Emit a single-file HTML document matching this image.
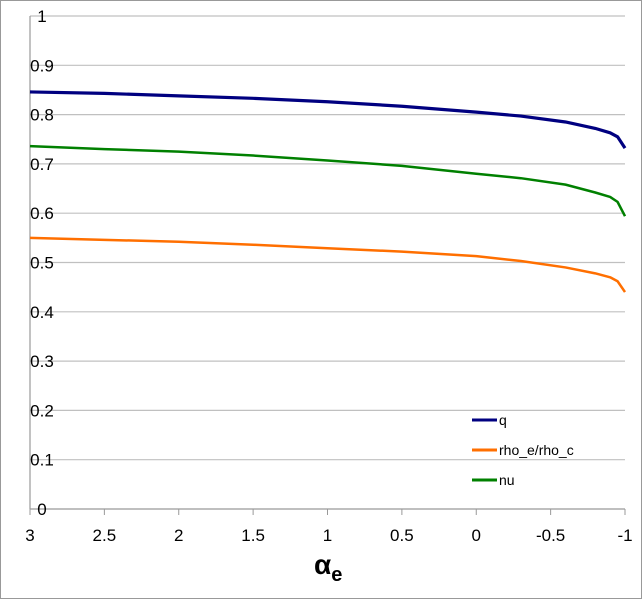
<!DOCTYPE html>
<html><head><meta charset="utf-8"><style>
body{margin:0;background:#fff}
svg{display:block;font-family:"Liberation Sans",sans-serif}
</style></head><body>
<svg width="642" height="599">
<rect x="0.5" y="0.5" width="641" height="598" fill="#fff" stroke="#999"/>
<g id="grid"></g><g id="ticks"></g><g id="series"></g>
<text x="314" y="574" font-size="28" font-weight="bold">α<tspan font-size="20" dy="7">e</tspan></text>
<g id="legend"></g>
</svg>
<script>
const alphas=[3,2.5,2,1.5,1,0.5,0,-0.3,-0.6,-0.8,-0.9,-0.95,-1];
const qVals=[.846,.843,.838,.833,.826,.817,.805,.797,.785,.772,.763,.755,.732];
const rhoVals=[.550,.546,.542,.536,.529,.522,.513,.503,.490,.478,.470,.462,.440];
const nuVals=[.736,.730,.725,.717,.707,.696,.680,.671,.658,.642,.633,.623,.594];
const xTicks=[3,2.5,2,1.5,1,0.5,0,-0.5,-1];
const yTicks=[0,0.1,0.2,0.3,0.4,0.5,0.6,0.7,0.8,0.9,1];
const seriesNames=["q","rho_e/rho_c","nu"];
const X0=30,X1=625,Y0=509,Y1=16;
const xs=a=>X0+(3-a)/4*(X1-X0);
const ys=v=>Y0-v*(Y0-Y1);
const NS="http://www.w3.org/2000/svg";
function mk(t,at,p){const e=document.createElementNS(NS,t);for(const k in at)e.setAttribute(k,at[k]);p.appendChild(e);return e;}
const grid=document.getElementById('grid'),ticks=document.getElementById('ticks'),ser=document.getElementById('series'),leg=document.getElementById('legend');
yTicks.forEach(v=>{
 if(v>0){const l=mk('line',{x1:X0,x2:X1,y1:ys(v),y2:ys(v),stroke:'#c0c0c0','stroke-width':1.2},grid);
 
 }
 const t=mk('text',{x:42,y:ys(v)+6,'font-size':17,'text-anchor':'middle'},ticks);t.textContent=String(v);
 
 
});
const ax=mk('line',{x1:X0,x2:X0,y1:Y1,y2:Y0,stroke:'#999','stroke-width':1.2},grid);


const bx=mk('line',{x1:X0,x2:X1,y1:Y0,y2:Y0,stroke:'#999','stroke-width':1.2},grid);


xTicks.forEach(a=>{
 const l=mk('line',{x1:xs(a),x2:xs(a),y1:Y0,y2:Y0+6,stroke:'#999'},ticks);
 
 
 const t=mk('text',{x:xs(a),y:Y0+32,'font-size':17,'text-anchor':'middle'},ticks);t.textContent=String(a);
 
 
});
const cols=['#000080','#ff6f00','#008000'];
[qVals,rhoVals,nuVals].forEach((vals,i)=>{
 const p=mk('polyline',{points:alphas.map((a,j)=>xs(a)+','+ys(vals[j])).join(' '),fill:'none',stroke:cols[i],'stroke-width':i==0?3.2:2.5,'stroke-linejoin':'round'},ser);
 
 
 const ly=420+i*30;
 const l=mk('line',{x1:472,x2:497,y1:ly,y2:ly,stroke:cols[i],'stroke-width':3},leg);
 
 
 const t=mk('text',{x:499,y:ly+5,'font-size':14},leg);t.textContent=seriesNames[i];
 
 
});
</script>
</body></html>
